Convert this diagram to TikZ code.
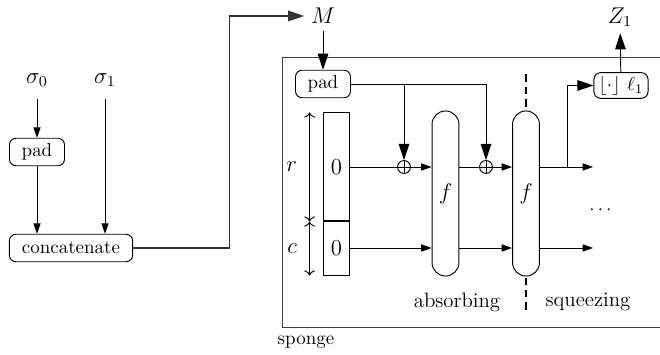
\documentclass[tikz,border=0pt]{standalone}
\usepackage{amsmath,amssymb}
\usetikzlibrary{positioning,arrows.meta,calc}
\tikzset{
  box/.style    = {draw, rounded corners=3.5pt, inner sep=0pt,
                   minimum height=14.5pt},
  stcell/.style = {draw, inner sep=0pt, minimum width=14.2pt, font=\large},
  perm/.style   = {draw, rounded corners=7.1pt, inner sep=0pt,
                   minimum width=14.2pt, minimum height=87pt, font=\large},
  xorop/.style  = {circle, draw, inner sep=0pt, minimum size=6.8pt,
                   path picture={\draw (path picture bounding box.north) -- (path picture bounding box.south)
                                       (path picture bounding box.west) -- (path picture bounding box.east);}},
  flow/.style   = {-{Triangle[length=5.5pt,width=3.8pt]}},
  bigflow/.style= {-{Triangle[length=8.5pt,width=5.6pt]}},
  span/.style   = {{To}-{To}},
  phase/.style  = {line width=1.3pt, dash pattern=on 4pt off 2.5pt},
  lbl/.style    = {font=\fontsize{11pt}{13pt}\selectfont},
  sym/.style    = {font=\large},
}

\begin{document}
\begin{tikzpicture}[x=0.527pt, y=-0.527pt, line width=0.5pt]
\useasboundingbox (0,0) rectangle (660,355);

%% --- input side -------------------------------------------------------
\node[sym] (s0) at (37,80)  {$\sigma_0$};
\node[sym] (s1) at (105,80) {$\sigma_1$};
\node[box, minimum width=29pt] (lpad) at (37,152) {pad};
\node[box, minimum width=65pt] (cat)  at (71,248) {concatenate};

\draw[flow, shorten <=3pt] (s0.south) -- (lpad.north);
\draw[flow] (lpad) -- (cat.north -| lpad);
\draw[flow, shorten <=3pt] (s1.south) -- (cat.north -| s1);

%% =====================================================================
%% sponge
%% =====================================================================
\draw[black!75] (662,57) -| (282,327) -- (662,327);
\node (sp) at (306,342) {sponge};

\node[sym] (M) at (323,16) {$M$};
\draw[bigflow, semithick, black!80] (cat.east) -- ++(96,0) |- (M.west);

\node[box, minimum width=29pt] (spad) at (323,84) {pad};
\draw[bigflow] (M) -- (spad);

% state
\node[stcell, minimum height=57pt]   (ra) at (336.5,167) {0};
\node[stcell, minimum height=28.5pt] (ca) at (336.5,248) {0};
\coordinate (rtop) at ($(ra.north west)+(-13,0)$);
\coordinate (rmid) at ($(ra.south west)+(-13,0)$);
\coordinate (cbot) at ($(ca.south west)+(-13,0)$);
\draw[span] (rtop) -- node[sym, left=3pt] {$r$} (rmid);
\draw[span] (rmid) -- node[sym, left=3pt] {$c$} (cbot);

% absorb / squeeze
\node[xorop] (x1) at (404,167) {};
\node[xorop] (x2) at (486,167) {};
\node[perm]  (f1) at (445.5,193.5) {$f$};
\node[perm]  (f2) at (526,193.5) {$f$};

\draw[bigflow] (spad.east) -| (x2.north);
\draw[bigflow] (spad.east -| x1) -- (x1.north);

\coordinate (rout) at (593,167);
\coordinate (cout) at (593,248);
\coordinate (tap)  at (567,167);

\draw (ra) -- (x1);
\draw[flow] (x1) -- (x1 -| f1.west);
\draw (x1 -| f1.east) -- (x2);
\draw[flow] (x2) -- (x2 -| f2.west);
\draw[flow] (x2 -| f2.east) -- (rout);
\draw[flow] (ca) -- (ca -| f1.west);
\draw[flow] (ca -| f1.east) -- (ca -| f2.west);
\draw[flow] (ca -| f2.east) -- (cout);

\node (dots) at (602,210) {$\cdots$};

% output
\node[box, minimum width=28.5pt, minimum height=13.5pt] (trunc) at (621,85.5)
  {$\lfloor\cdot\rfloor\ \ell_1$};
\node[sym] (Z1) at (620,17) {$Z_1$};
\draw[bigflow] (tap) |- (trunc.west);
\draw[bigflow] (trunc) -- (Z1);

% phase border
\draw[phase] ($(f2.north)+(0,-36)$) -- ($(f2.north)+(0,-1)$);
\draw[phase] ($(f2.south)+(0,1)$) -- ($(f2.south)+(0,36)$);
\node[lbl] (abs) at (457,302) {absorbing};
\node[lbl] (sqz) at (588,302) {squeezing};

\end{tikzpicture}
\end{document}
